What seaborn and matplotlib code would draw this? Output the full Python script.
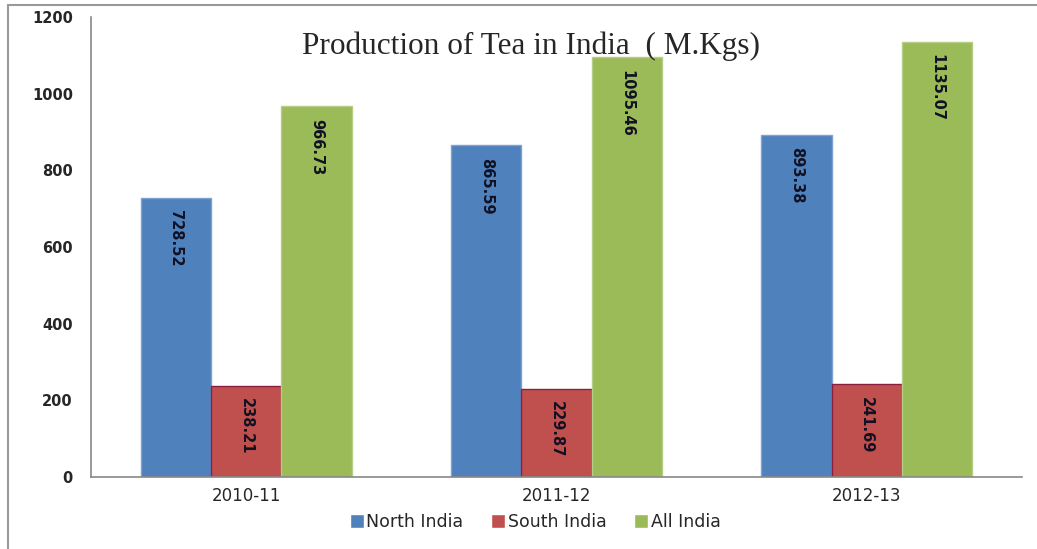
import pandas as pd
import numpy as np
import matplotlib.pyplot as plt
import matplotlib.lines as mlines
import seaborn as sns

# data
years = ["2010-11", "2011-12", "2012-13"]
north_india = [728.52, 865.59, 893.38]
south_india = [238.21, 229.87, 241.69]
all_india = [966.73, 1095.46, 1135.07]
series = ["North India", "South India", "All India"]
colors = ["#4F81BD", "#C0504D", "#9BBB59"]
edges = ["#7FA3D0", "#8B1F3F", "#B5CE86"]

df = pd.DataFrame({
    "Year": years * 3,
    "Region": [s for s in series for _ in years],
    "Production": north_india + south_india + all_india,
})

sns.set_style("white")
fig = plt.figure(figsize=(10.37, 5.49), dpi=100)
ax = fig.add_axes([0.0878, 0.131, 0.8977, 0.838])

sns.barplot(data=df, x="Year", y="Production", hue="Region", palette=colors,
            width=0.68, ax=ax, legend=True, saturation=1)

for cont, ec in zip(ax.containers, edges):
    for bar in cont:
        bar.set_edgecolor(ec)
        bar.set_linewidth(1.0)
        h = bar.get_height()
        ax.annotate(f"{h:.2f}", (bar.get_x() + bar.get_width() / 2, h),
                    xytext=(0, -9), textcoords="offset points",
                    rotation=-90, ha="center", va="top",
                    fontsize=10.5, fontweight="bold", color="#111122")

ax.set_ylim(0, 1200)
ax.set_xlim(-0.5, 2.5)
ax.set_yticks(np.arange(0, 1201, 200))
ax.set_xlabel("")
ax.set_ylabel("")
ax.set_xticks(range(3))
ax.set_xticklabels(years, fontsize=12)
ax.set_xticks([-0.5, 0.5, 1.5, 2.5], minor=True)
ax.tick_params(axis="x", which="major", length=0, pad=7)
ax.tick_params(axis="x", which="minor", length=5, color="#888888", width=1.2, direction="out")
ax.tick_params(axis="y", length=5, color="#888888", width=1.2, direction="out", labelsize=10.5, pad=8)
for lab in ax.get_yticklabels():
    lab.set_fontweight("bold")

sns.despine(ax=ax)
for sp in ["left", "bottom"]:
    ax.spines[sp].set_color("#888888")
    ax.spines[sp].set_linewidth(1.2)

ax.text(0.512, 0.915, "Production of Tea in India  ( M.Kgs)", transform=fig.transFigure,
        ha="center", va="center", fontsize=22.5, family="Liberation Serif")

handles, labels = ax.get_legend_handles_labels()
ax.legend(handles, labels, loc="center", bbox_to_anchor=(0.477, -0.098), ncol=3,
          frameon=False, fontsize=12.5, handlelength=0.8, handleheight=0.8,
          handletextpad=0.15, columnspacing=1.6)

# thin frame lines at top and left of the picture
fig.add_artist(mlines.Line2D([0.0075, 0.0075], [0, 0.99], transform=fig.transFigure, color="#999999", lw=1.5))
fig.add_artist(mlines.Line2D([0.0075, 1.0], [0.99, 0.99], transform=fig.transFigure, color="#999999", lw=1.5))

fig.savefig("out.png", dpi=100)
